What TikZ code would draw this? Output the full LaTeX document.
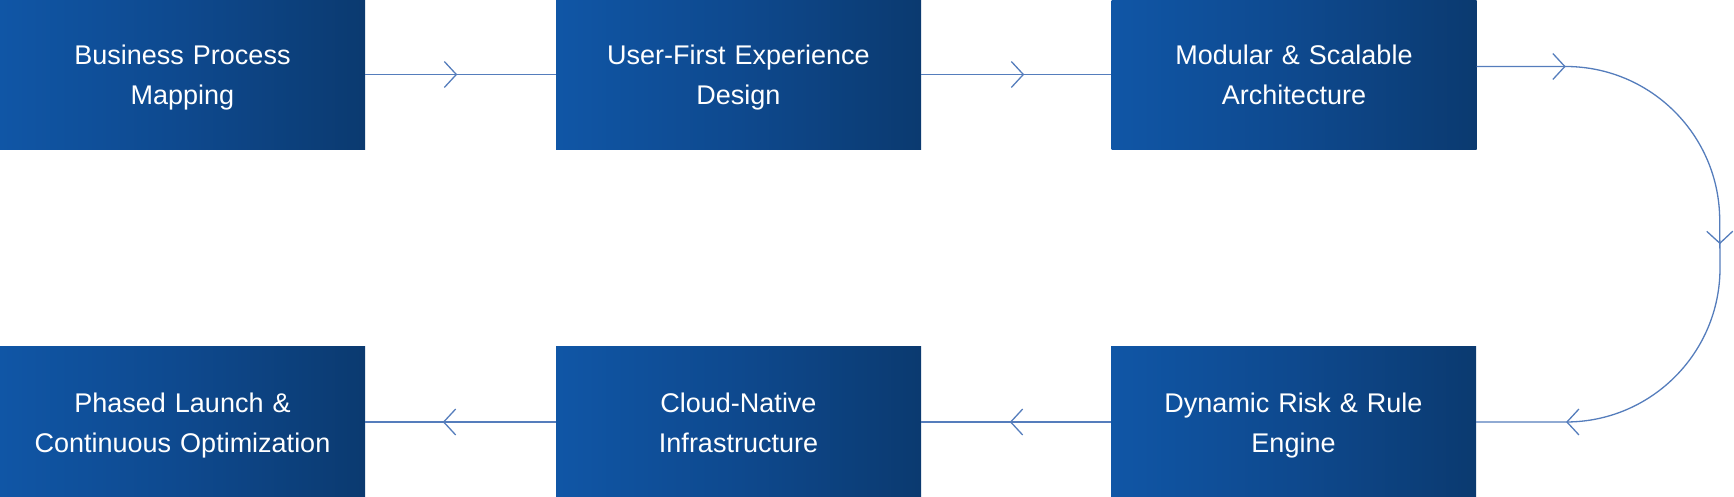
\documentclass[tikz,border=0pt]{standalone}
\usepackage{fontspec}
\setmainfont{Liberation Sans}
\usetikzlibrary{arrows.meta,decorations.markings}
\definecolor{boxL}{RGB}{16,86,166}
\definecolor{boxM}{RGB}{14,73,142}
\definecolor{boxR}{RGB}{11,58,112}
\definecolor{lineC}{RGB}{85,125,188}
\newcommand\twolines[2]{\rule{0pt}{30pt}#1\\#2\rule[-9pt]{0pt}{9pt}}
\tikzset{
  chev/.tip={Straight Barb[length=12pt,width=26pt]},
  stepbox/.style={rectangle, minimum width=365pt, minimum height=150pt, inner sep=0pt,
    text width=345pt, align=center, text=white, font=\fontsize{27}{40}\selectfont,
    left color=boxL, right color=boxR, middle color=boxM},
  conn/.style={draw=lineC, line width=1.3pt},
  tipat/.style={postaction={decorate}, decoration={markings, mark=at position #1 with {\arrow[lineC]{chev}}}}
}
\begin{document}
\begin{tikzpicture}[x=1pt,y=1pt]
\useasboundingbox (0,0) rectangle (1734,497);
\node[stepbox] (b1) at (182.5,422.5) {\twolines{Business Process}{Mapping}};
\node[stepbox] (b2) at (738.5,422.5) {\twolines{User-First Experience}{Design}};
\node[stepbox] (b3) at (1294,422.5) {\twolines{Modular \& Scalable}{Architecture}};
\node[stepbox] (b4) at (1293.5,75) {\twolines{Dynamic Risk \& Rule}{Engine}};
\node[stepbox] (b5) at (738.5,75) {\twolines{Cloud-Native}{Infrastructure}};
\node[stepbox] (b6) at (182.5,75) {\twolines{Phased Launch \&}{Continuous Optimization}};
\draw[conn, tipat=92pt] (b1.east) -- (b2.west);
\draw[conn, tipat=103pt] (b2.east) -- (b3.west);
\draw[conn, postaction={decorate}, decoration={markings,
    mark=at position 89pt with {\arrow[lineC]{chev}},
    mark=at position 354.6pt with {\arrow[lineC]{chev}},
    mark=at position 620.3pt with {\arrow[lineC]{chev}}}]
  ([yshift=8pt]b3.east) -- ++(89,0) arc[start angle=90,end angle=0,radius=154]
  -- (1720,229) arc[start angle=0,end angle=-90,radius=154] -- (b4.east);
\draw[conn, tipat=101pt] (b4.west) -- (b5.east);
\draw[conn, tipat=113pt] (b5.west) -- (b6.east);
\end{tikzpicture}
\end{document}
